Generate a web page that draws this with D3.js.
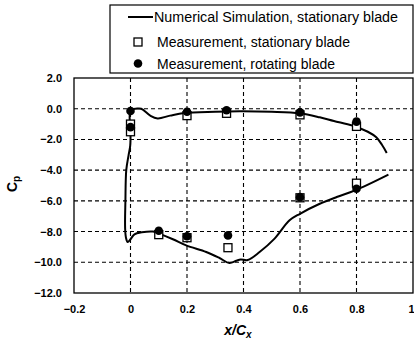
<!DOCTYPE html>
<html><head><meta charset="utf-8">
<script src="https://cdn.jsdelivr.net/npm/d3@7"></script>
<style>body{margin:0;background:#fff}svg{display:block}text{font-family:Arial,"Liberation Sans",sans-serif}</style>
</head><body><svg id="c" width="414" height="341"></svg>
<script>
const xTicks = [-0.2, 0, 0.2, 0.4, 0.6, 0.8, 1];
const yTicks = [2, 0, -2, -4, -6, -8, -10, -12];
const simX = [0.907,0.89,0.87,0.84,0.786,0.72,0.67,0.6,0.5,0.386,0.3,0.19,0.14,0.096,0.07,0.038,0.02,0.0,-0.003,0.0,-0.001,-0.007,-0.015,-0.018,-0.019,-0.016,-0.01,0.0,0.014,0.04,0.079,0.096,0.15,0.197,0.268,0.315,0.35,0.375,0.39,0.415,0.457,0.51,0.563,0.6,0.67,0.73,0.795,0.913];
const simCp = [-2.88,-2.35,-1.86,-1.5,-1.1,-0.8,-0.56,-0.3,-0.2,-0.17,-0.2,-0.28,-0.45,-0.63,-0.45,0.0,0.0,-0.1,-0.5,-1.5,-2.4,-3.05,-4.0,-6.0,-7.8,-8.4,-8.68,-8.5,-8.18,-8.05,-8.0,-8.1,-8.5,-8.9,-9.33,-9.72,-10.05,-9.9,-9.82,-9.85,-9.33,-8.46,-7.27,-6.84,-6.19,-5.75,-5.32,-4.29];
const statX = [0, 0, 0.2, 0.34, 0.6, 0.8, 0.1, 0.2, 0.345, 0.6, 0.8];
const statCp = [-1.0, -1.5, -0.45, -0.3, -0.4, -1.15, -8.2, -8.4, -9.05, -5.8, -4.85];
const rotX = [0, 0, 0.2, 0.34, 0.6, 0.8, 0.1, 0.2, 0.345, 0.6, 0.8];
const rotCp = [-0.15, -1.2, -0.2, -0.1, -0.24, -0.84, -7.95, -8.3, -8.25, -5.76, -5.21];
const legendLabels = ["Numerical Simulation, stationary blade", "Measurement, stationary blade", "Measurement, rotating blade"];

const svg = d3.select("#c");
const L = 74, R = 413, T = 78, B = 293;
const x = d3.scaleLinear().domain([-0.2, 1]).range([L, R]);
const y = d3.scaleLinear().domain([-12, 2]).range([B, T]);

// gridlines
const g = svg.append("g");
g.selectAll("line.v").data(xTicks.filter(d => d > -0.2 && d < 1)).join("line")
  .attr("x1", d => x(d)).attr("x2", d => x(d)).attr("y1", T).attr("y2", B)
  .attr("stroke", "#000").attr("stroke-width", 1.1).attr("stroke-dasharray", "4,3");
g.selectAll("line.h").data(yTicks.filter(d => d < 2 && d > -12)).join("line")
  .attr("y1", d => y(d)).attr("y2", d => y(d)).attr("x1", L).attr("x2", R)
  .attr("stroke", "#000").attr("stroke-width", 1.1).attr("stroke-dasharray", "4,3");
svg.append("rect").attr("x", L).attr("y", T).attr("width", R - L).attr("height", B - T)
  .attr("fill", "none").attr("stroke", "#000").attr("stroke-width", 1.3);

// axes labels via d3 axes
const xAxis = d3.axisBottom(x).tickValues(xTicks).tickSize(0).tickPadding(12).tickFormat(d3.format("~g"));
const xa = svg.append("g").attr("transform", `translate(0,${B})`).call(xAxis);
xa.select(".domain").remove();
xa.selectAll("text").attr("font-size", 11).attr("font-weight", "bold").attr("fill", "#000").attr("font-family", "Arial");
xa.selectAll(".tick").filter(d => d === 1).select("text").attr("text-anchor", "end").attr("x", 1);
const yAxis = d3.axisLeft(y).tickValues(yTicks).tickSize(0).tickPadding(12).tickFormat(d3.format(".1f"));
const ya = svg.append("g").attr("transform", `translate(${L},0)`).call(yAxis);
ya.select(".domain").remove();
ya.selectAll("text").attr("font-size", 11).attr("font-weight", "bold").attr("fill", "#000").attr("font-family", "Arial");

// titles
const xt = svg.append("text").attr("x", 238).attr("y", 335).attr("text-anchor", "middle")
  .attr("font-size", 14).attr("font-weight", "bold").attr("font-style", "italic");
xt.append("tspan").text("x/C");
xt.append("tspan").attr("font-size", 10).attr("dy", 3).text("x");
const yt = svg.append("text").attr("transform", "translate(17,184) rotate(-90)").attr("text-anchor", "middle")
  .attr("font-size", 14).attr("font-weight", "bold");
yt.append("tspan").text("C");
yt.append("tspan").attr("font-size", 10).attr("dy", 3).text("p");

// simulation curve
const simData = simX.map((d, i) => [d, simCp[i]]);
svg.append("path").datum(simData)
  .attr("d", d3.line().x(d => x(d[0])).y(d => y(d[1])).curve(d3.curveCatmullRom.alpha(0.5)))
  .attr("fill", "none").attr("stroke", "#000").attr("stroke-width", 2);

// markers
const sq = 8;
svg.selectAll("rect.st").data(statX.map((d, i) => [d, statCp[i]])).join("rect")
  .attr("x", d => x(d[0]) - sq / 2).attr("y", d => y(d[1]) - sq / 2).attr("width", sq).attr("height", sq)
  .attr("fill", "#fff").attr("stroke", "#000").attr("stroke-width", 1.3);
svg.selectAll("circle.rt").data(rotX.map((d, i) => [d, rotCp[i]])).join("circle")
  .attr("cx", d => x(d[0])).attr("cy", d => y(d[1])).attr("r", 4.3).attr("fill", "#000");

// legend
svg.append("rect").attr("x", 110).attr("y", 5).attr("width", 303).attr("height", 68)
  .attr("fill", "#fff").attr("stroke", "#000").attr("stroke-width", 1.2);
svg.append("line").attr("x1", 128).attr("x2", 153).attr("y1", 17).attr("y2", 17).attr("stroke", "#000").attr("stroke-width", 2);
svg.append("rect").attr("x", 134).attr("y", 38).attr("width", 8).attr("height", 8).attr("fill", "#fff").attr("stroke", "#000").attr("stroke-width", 1.3);
svg.append("circle").attr("cx", 138).attr("cy", 63.5).attr("r", 4.3).attr("fill", "#000");
const ly = [22, 47, 69], lx = [154, 157, 157], lw = [244, 193, 178];
svg.selectAll("text.lg").data(legendLabels).join("text")
  .attr("x", (d, i) => lx[i]).attr("y", (d, i) => ly[i]).attr("font-size", 14).attr("fill", "#000")
  .attr("textLength", (d, i) => lw[i]).attr("lengthAdjust", "spacingAndGlyphs").text(d => d);
</script></body></html>
